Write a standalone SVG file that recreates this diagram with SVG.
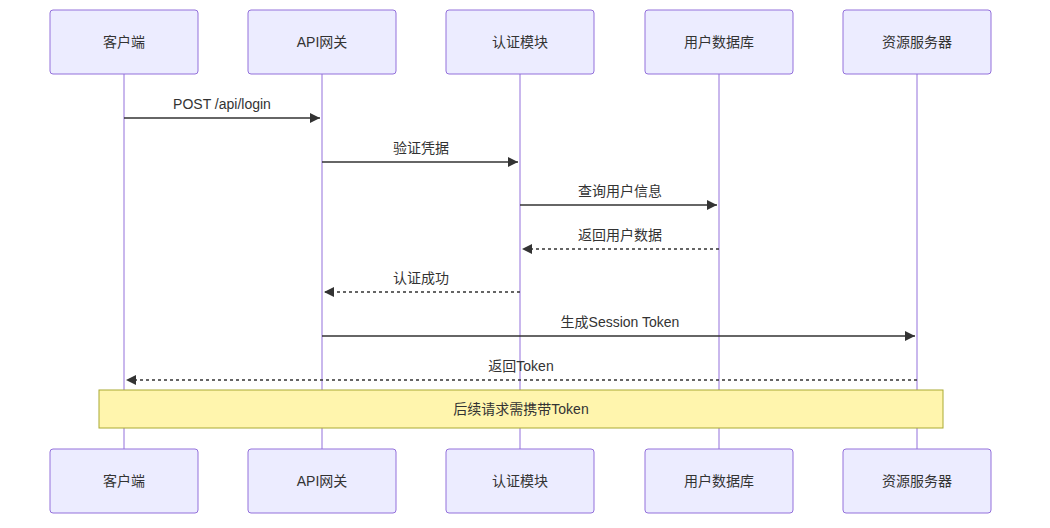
<svg xmlns="http://www.w3.org/2000/svg" width="1050" height="528" viewBox="0 0 1050 528">
<defs>
<style>
.actor rect{fill:#ECECFF;stroke:#9370DB;stroke-width:1}
text{font-family:"Liberation Sans","Noto Sans CJK SC",sans-serif;font-size:14px;fill:#333;text-anchor:middle;dominant-baseline:central}
.life{stroke:#9370DB;stroke-width:1}
.msg{stroke:#333;stroke-width:1.3;fill:none}
.dash{stroke-dasharray:3,3}
</style>
<marker id="ah" viewBox="0 0 10 10" refX="10" refY="5" markerWidth="8" markerHeight="8" orient="auto"><path d="M0,0L10,5L0,10z" fill="#333"/></marker>
</defs>
<g id="lifelines">
<line class="life" x1="124" y1="74" x2="124" y2="449"/>
<line class="life" x1="322" y1="74" x2="322" y2="449"/>
<line class="life" x1="520" y1="74" x2="520" y2="449"/>
<line class="life" x1="719" y1="74" x2="719" y2="449"/>
<line class="life" x1="917" y1="74" x2="917" y2="449"/>
</g>
<g id="actor-client" class="actor"><rect x="50" y="10" width="148" height="64" rx="3"/><text x="124" y="42">客户端</text><rect x="50" y="449" width="148" height="64" rx="3"/><text x="124" y="481">客户端</text></g>
<g id="actor-gateway" class="actor"><rect x="248" y="10" width="148" height="64" rx="3"/><text x="322" y="42">API网关</text><rect x="248" y="449" width="148" height="64" rx="3"/><text x="322" y="481">API网关</text></g>
<g id="actor-auth" class="actor"><rect x="446" y="10" width="148" height="64" rx="3"/><text x="520" y="42">认证模块</text><rect x="446" y="449" width="148" height="64" rx="3"/><text x="520" y="481">认证模块</text></g>
<g id="actor-db" class="actor"><rect x="645" y="10" width="148" height="64" rx="3"/><text x="719" y="42">用户数据库</text><rect x="645" y="449" width="148" height="64" rx="3"/><text x="719" y="481">用户数据库</text></g>
<g id="actor-res" class="actor"><rect x="843" y="10" width="148" height="64" rx="3"/><text x="917" y="42">资源服务器</text><rect x="843" y="449" width="148" height="64" rx="3"/><text x="917" y="481">资源服务器</text></g>
<g id="connectors">
<line class="msg" x1="124" y1="118" x2="320" y2="118" marker-end="url(#ah)"/><text x="222" y="104">POST /api/login</text>
<line class="msg" x1="322" y1="162" x2="518" y2="162" marker-end="url(#ah)"/><text x="421" y="148">验证凭据</text>
<line class="msg" x1="520" y1="205" x2="717" y2="205" marker-end="url(#ah)"/><text x="620" y="191">查询用户信息</text>
<line class="msg dash" x1="719" y1="249" x2="522" y2="249" marker-end="url(#ah)"/><text x="620" y="235">返回用户数据</text>
<line class="msg dash" x1="520" y1="292" x2="324" y2="292" marker-end="url(#ah)"/><text x="421" y="278">认证成功</text>
<line class="msg" x1="322" y1="336" x2="915" y2="336" marker-end="url(#ah)"/><text x="620" y="322">生成Session Token</text>
<line class="msg dash" x1="917" y1="380" x2="126" y2="380" marker-end="url(#ah)"/><text x="521" y="366">返回Token</text>
</g>
<g id="note"><rect x="99" y="390" width="844" height="38" fill="#fff5ad" stroke="#aaaa33"/><text x="521" y="409">后续请求需携带Token</text></g>
</svg>
